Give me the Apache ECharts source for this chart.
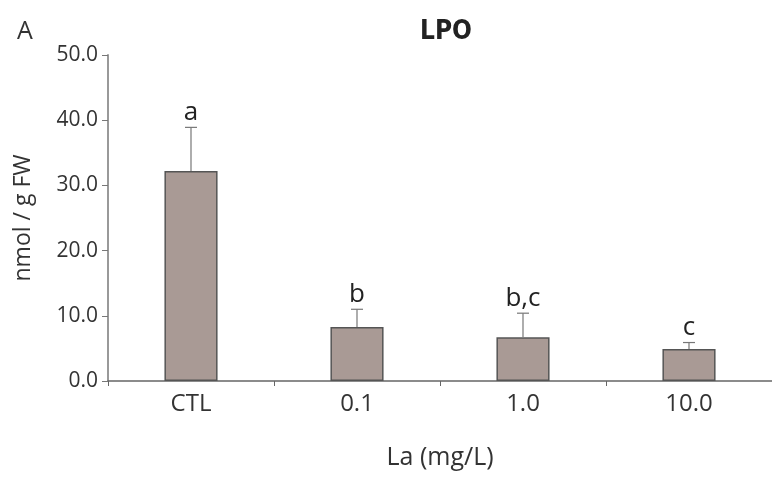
<!DOCTYPE html>
<html>
<head>
<meta charset="utf-8">
<script src="https://cdn.jsdelivr.net/npm/echarts@6/dist/echarts.min.js"></script>
<style>
  html, body { margin: 0; padding: 0; background: #fff; }
  #chart { width: 772px; height: 477px; }
</style>
</head>
<body>
<div id="chart"></div>
<script>
// data
const categories = ["CTL", "0.1", "1.0", "10.0"];
const lpoMeans = [32.2, 8.3, 6.7, 4.9];
const lpoErrors = [6.7, 2.7, 3.7, 1.0];
const sigLetters = ["a", "b", "b,c", "c"];
const yTicks = [0, 10, 20, 30, 40, 50];

const chart = echarts.init(document.getElementById("chart"));
const fontFam = "'Open Sans', 'DejaVu Sans', sans-serif";

const errData = categories.map((c, i) => [i, lpoMeans[i], lpoErrors[i]]);

const option = {
  animation: false,
  backgroundColor: "#fff",
  title: [
    { text: "LPO", left: 441, top: 14, textAlign: "center",
      textStyle: { fontSize: 26, fontWeight: "bold", color: "#222",
                   fontFamily: "'Liberation Sans Narrow', 'DejaVu Sans Condensed', sans-serif" } },
    { text: "A", left: 12, top: 14,
      textStyle: { fontSize: 25, fontWeight: "normal", color: "#333", fontFamily: fontFam } }
  ],
  grid: { left: 108, top: 55, width: 667, height: 326 },
  xAxis: {
    type: "category",
    data: categories,
    name: "La (mg/L)",
    nameLocation: "middle",
    nameGap: 64,
    nameTextStyle: { fontSize: 25, color: "#333", fontFamily: fontFam },
    axisLine: { lineStyle: { color: "#666", width: 1.5 } },
    axisTick: { show: true, length: 5, lineStyle: { color: "#666" } },
    axisLabel: { fontSize: 24, color: "#333", margin: 11, fontFamily: fontFam }
  },
  yAxis: {
    type: "value",
    min: 0,
    max: 50,
    interval: 10,
    name: "nmol / g FW",
    nameLocation: "middle",
    nameGap: 73,
    nameTextStyle: { fontSize: 23, color: "#333", fontFamily: fontFam },
    axisLine: { show: true, lineStyle: { color: "#999", width: 2 } },
    axisTick: { show: true, length: 6, lineStyle: { color: "#777" } },
    splitLine: { show: false },
    axisLabel: {
      fontSize: 21, color: "#333", margin: 10, fontFamily: fontFam,
      formatter: v => yTicks.includes(v) ? v.toFixed(1) : ""
    }
  },
  series: [
    {
      type: "bar",
      data: lpoMeans,
      barWidth: "32%",
      itemStyle: { color: "#a99a95", borderColor: "#555", borderWidth: 1.5 },
      z: 2
    },
    {
      type: "custom",
      data: errData,
      z: 3,
      renderItem: function (params, api) {
        const i = api.value(0);
        const top = api.coord([i, api.value(1) + api.value(2)]);
        const base = api.coord([i, api.value(1)]);
        const half = 6;
        return {
          type: "group",
          children: [
            { type: "line", shape: { x1: base[0], y1: base[1], x2: top[0], y2: top[1] },
              style: { stroke: "#777", lineWidth: 1.2 } },
            { type: "line", shape: { x1: top[0] - half, y1: top[1], x2: top[0] + half, y2: top[1] },
              style: { stroke: "#777", lineWidth: 1.2 } },
            { type: "text", x: top[0], y: top[1] - 2,
              style: { text: sigLetters[params.dataIndex], fill: "#222", fontSize: 26,
                       fontFamily: fontFam, align: "center", verticalAlign: "bottom" } }
          ]
        };
      }
    }
  ]
};
chart.setOption(option);
</script>
</body>
</html>
